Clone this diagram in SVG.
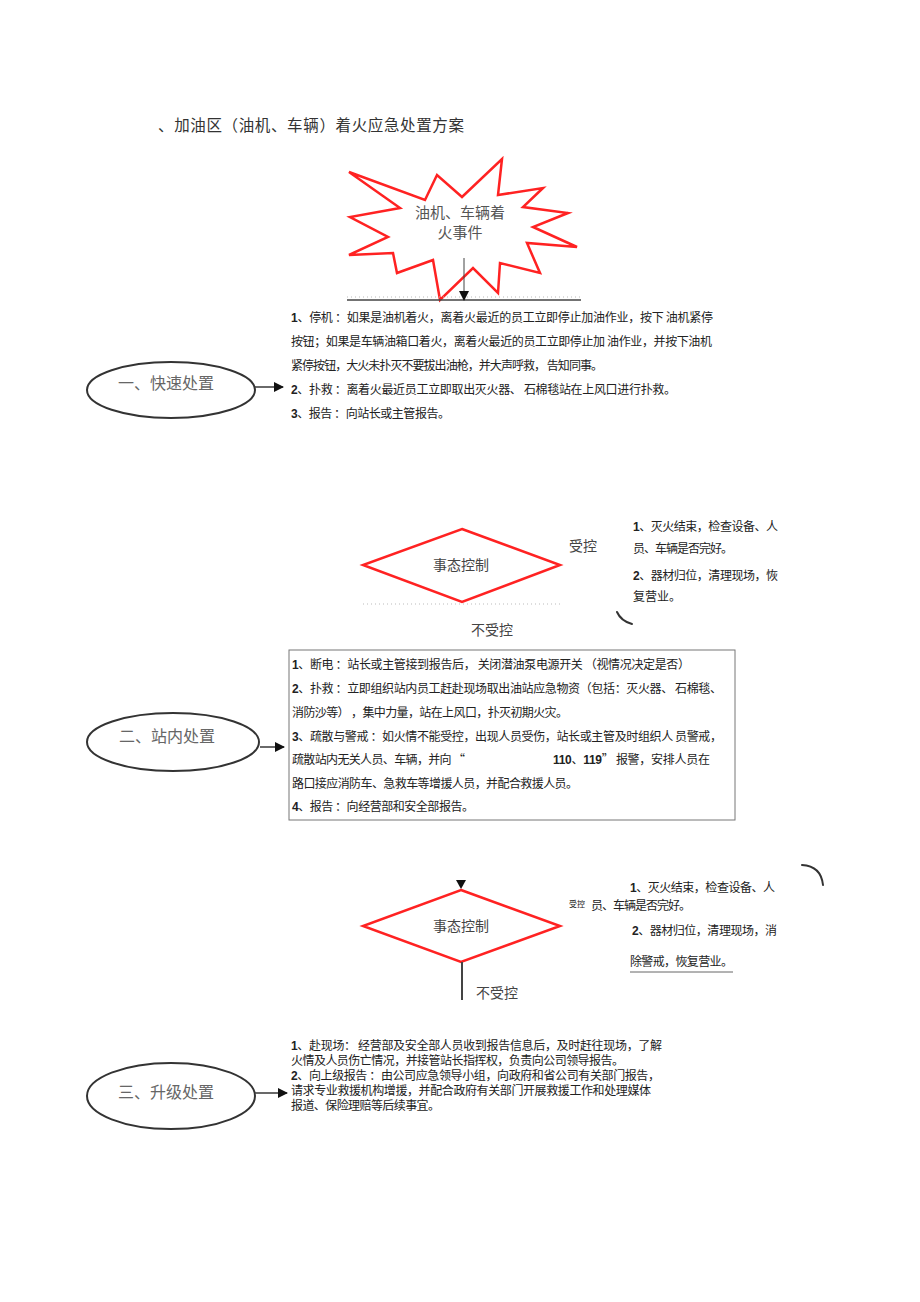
<svg xmlns="http://www.w3.org/2000/svg" width="920" height="1302" viewBox="0 0 920 1302">
<style>
  .bg{fill:#fff}
  .t{font-family:"Noto Sans CJK SC","Liberation Sans",sans-serif;font-size:12px;fill:#222}
  .n{font-family:"Liberation Sans",Arial,sans-serif;font-weight:bold}
  .title{font-family:"Noto Sans CJK SC",sans-serif;font-size:15.5px;fill:#333}
  .lbl{font-family:"Noto Sans CJK SC",sans-serif;font-size:14px;fill:#444}
  .elt{font-family:"Noto Sans CJK SC",serif;font-size:16px;fill:#666}
  .red{fill:#fff;stroke:#ff2222;stroke-width:2.5;stroke-linejoin:miter}
  .ell{fill:#fff;stroke:#333;stroke-width:2}
  .ln{stroke:#444;stroke-width:1.6;fill:none}
  .dot{stroke:#bbb;stroke-width:1;stroke-dasharray:1 3;fill:none}
  .arc{stroke:#333;stroke-width:2;fill:none;stroke-linecap:round}
</style>
<defs>
  <marker id="ah" markerWidth="10" markerHeight="10" refX="9" refY="5" orient="auto" markerUnits="userSpaceOnUse">
    <path d="M0,0 L10,5 L0,10 Z" fill="#111"/>
  </marker>
</defs>
<rect class="bg" x="0" y="0" width="920" height="1302"/>

<g id="title">
  <text class="title" x="158" y="131" textLength="306">、加油区（油机、车辆）着火应急处置方案</text>
</g>

<g id="node-fire">
  <path class="red" d="M349,172 L425,200 L437,175 L462,197 L502,159 L498,195 L543,188 L523,207 L568,213 L533,227 L577,247 L527,243 L540,273 L500,263 L498,293 L473,268 L440,300 L433,260 L397,273 L393,253 L349,255 L388,237 L350,217 L400,208 Z"/>
  <text class="lbl" x="460" y="218" text-anchor="middle" style="font-size:15px;fill:#555">油机、车辆着</text>
  <text class="lbl" x="460" y="238" text-anchor="middle" style="font-size:15px;fill:#555">火事件</text>
</g>

<g id="node-quick">
  <ellipse class="ell" cx="171" cy="390" rx="84" ry="28"/>
  <text class="elt" x="166" y="389" text-anchor="middle">一、快速处置</text>
</g>

<g id="text-quick">
  <text class="t" x="291" y="322" textLength="422"><tspan class="n">1</tspan>、停机 ：如果是油机着火，离着火最近的员工立即停止加油作业，按下 油机紧停</text>
  <text class="t" x="291" y="346" textLength="421">按钮；如果是车辆油箱口着火，离着火最近的员工立即停止加 油作业，并按下油机</text>
  <text class="t" x="291" y="370" textLength="312">紧停按钮，大火未扑灭不要拔出油枪，并大声呼救， 告知同事。</text>
  <text class="t" x="291" y="394" textLength="385"><tspan class="n">2</tspan>、扑救 ：离着火最近员工立即取出灭火器、 石棉毯站在上风口进行扑救。</text>
  <text class="t" x="291" y="418" textLength="159"><tspan class="n">3</tspan>、报告 ：向站长或主管报告。</text>
</g>

<g id="node-decision1">
  <polygon class="red" points="462,529 560,565 462,602 363,565"/>
  <text class="lbl" x="461" y="570" text-anchor="middle">事态控制</text>
</g>

<g id="label-controlled1">
  <text class="lbl" x="583" y="551" text-anchor="middle">受控</text>
  <text class="t" x="633" y="531" textLength="145"><tspan class="n">1</tspan>、灭火结束，检查设备、人</text>
  <text class="t" x="633" y="553" textLength="100">员、车辆是否完好。</text>
  <text class="t" x="633" y="580" textLength="145"><tspan class="n">2</tspan>、器材归位，清理现场，恢</text>
  <text class="t" x="633" y="601">复营业。</text>
  <text class="lbl" x="492" y="635" text-anchor="middle">不受控</text>
</g>

<g id="node-station">
  <ellipse class="ell" cx="173" cy="742" rx="86" ry="29"/>
  <text class="elt" x="167" y="742" text-anchor="middle">二、站内处置</text>
</g>

<g id="text-station">
  <rect x="289" y="650" width="446" height="170" fill="none" stroke="#777" stroke-width="1"/>
  <text class="t" x="292" y="669" textLength="398"><tspan class="n">1</tspan>、断电 ：站长或主管接到报告后， 关闭潜油泵电源开关 （视情况决定是否）</text>
  <text class="t" x="292" y="693" textLength="430"><tspan class="n">2</tspan>、扑救 ：立即组织站内员工赶赴现场取出油站应急物资（包括：灭火器、 石棉毯、</text>
  <text class="t" x="292" y="717" textLength="276">消防沙等） ，集中力量，站在上风口，扑灭初期火灾。</text>
  <text class="t" x="292" y="741" textLength="430"><tspan class="n">3</tspan>、疏散与警戒 ：如火情不能受控，出现人员受伤，站长或主管及时组织人 员警戒，</text>
  <text class="t" x="292" y="764" textLength="173">疏散站内无关人员、车辆，并向 “</text>
  <text class="t" x="553" y="764" textLength="157"><tspan class="n">110</tspan>、<tspan class="n">119</tspan>” 报警，安排人员在</text>
  <text class="t" x="292" y="788" textLength="286">路口接应消防车、急救车等增援人员，并配合救援人员。</text>
  <text class="t" x="292" y="811" textLength="182"><tspan class="n">4</tspan>、报告 ：向经营部和安全部报告。</text>
</g>

<g id="node-decision2">
  <polygon class="red" points="461,890 560,926 461,962 363,926"/>
  <text class="lbl" x="461" y="931" text-anchor="middle">事态控制</text>
</g>

<g id="label-controlled2">
  <text class="t" x="577" y="907" text-anchor="middle" style="font-size:8px">受控</text>
  <text class="t" x="630" y="892" textLength="145"><tspan class="n">1</tspan>、灭火结束，检查设备、人</text>
  <text class="t" x="591" y="910" textLength="100">员、车辆是否完好。</text>
  <text class="t" x="632" y="935" textLength="145"><tspan class="n">2</tspan>、器材归位，清理现场，消</text>
  <text class="t" x="630" y="966" textLength="103">除警戒，恢复营业。</text>
  <line x1="630" y1="972" x2="733" y2="972" stroke="#666" stroke-width="1"/>
  <text class="lbl" x="497" y="998" text-anchor="middle">不受控</text>
</g>

<g id="node-escalate">
  <ellipse class="ell" cx="171" cy="1096" rx="84" ry="33"/>
  <text class="elt" x="166" y="1098" text-anchor="middle">三、升级处置</text>
</g>

<g id="text-escalate">
  <text class="t" x="291" y="1050" textLength="371"><tspan class="n">1</tspan>、赴现场： 经营部及安全部人员收到报告信息后，及时赶往现场，了解</text>
  <text class="t" x="291" y="1065" textLength="333">火情及人员伤亡情况，并接管站长指挥权，负责向公司领导报告。</text>
  <text class="t" x="291" y="1080" textLength="369"><tspan class="n">2</tspan>、向上级报告 ：由公司应急领导小组，向政府和省公司有关部门报告，</text>
  <text class="t" x="291" y="1095" textLength="360">请求专业救援机构增援，并配合政府有关部门开展救援工作和处理媒体</text>
  <text class="t" x="291" y="1110" textLength="149">报道、保险理赔等后续事宜。</text>
</g>

<g id="connectors">
  <line class="dot" x1="347" y1="297" x2="581" y2="297"/>
  <line class="ln" x1="347" y1="300" x2="581" y2="300"/>
  <line class="ln" x1="464" y1="258" x2="464" y2="300" marker-end="url(#ah)" style="stroke-width:1"/>
  <line class="ln" x1="255" y1="387" x2="283" y2="387" marker-end="url(#ah)"/>
  <line class="dot" x1="363" y1="604" x2="560" y2="604"/>
  <path class="arc" d="M617,612 Q621,621 632,624"/>
  <line class="ln" x1="260" y1="747" x2="284" y2="747" marker-end="url(#ah)"/>
  <path d="M456,880 L466,880 L461,889 Z" fill="#111"/>
  <path class="arc" d="M802,865 Q821,866 823,885"/>
  <line class="ln" x1="462" y1="962" x2="462" y2="1000" style="stroke-width:2"/>
  <line class="ln" x1="255" y1="1093" x2="287" y2="1093" marker-end="url(#ah)"/>
</g>
</svg>
